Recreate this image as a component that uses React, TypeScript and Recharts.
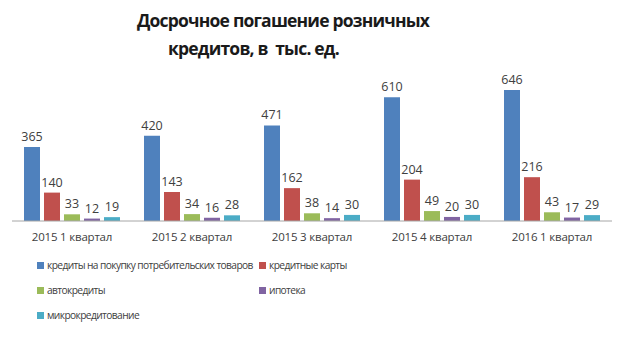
import React from 'react'
import { BarChart, Bar, XAxis, YAxis, Legend, LabelList } from 'recharts'

const quarters = ['2015 1 квартал', '2015 2 квартал', '2015 3 квартал', '2015 4 квартал', '2016 1 квартал']
const consumer = [365, 420, 471, 610, 646]
const cards = [140, 143, 162, 204, 216]
const auto = [33, 34, 38, 49, 43]
const mortgage = [12, 16, 14, 20, 17]
const micro = [19, 28, 30, 30, 29]

const seriesNames = [
  'кредиты на  покупку потребительских товаров',
  'кредитные карты',
  'автокредиты',
  'ипотека',
  'микрокредитование',
]
const colors = ['#4f81bd', '#c0504d', '#9bbb59', '#8064a2', '#4bacc6']
const keys = ['consumer', 'cards', 'auto', 'mortgage', 'micro']

const data = quarters.map((q, i) => ({
  q,
  consumer: consumer[i],
  cards: cards[i],
  auto: auto[i],
  mortgage: mortgage[i],
  micro: micro[i],
}))

const FONT = '"Open Sans", "DejaVu Sans", sans-serif'

// legend grid: 2 columns, last item alone
const legendPos = [
  { x: 37, y: 265 }, { x: 259, y: 265 },
  { x: 37, y: 290 }, { x: 259, y: 290 },
  { x: 37, y: 315 },
]

function LegendBox() {
  return (
    <div style={{ position: 'relative', width: 640, height: 0 }}>
      {seriesNames.map((n, i) => (
        <div key={n} style={{
          position: 'absolute', left: legendPos[i].x, top: legendPos[i].y - 8,
          height: 16, display: 'flex', alignItems: 'center', whiteSpace: 'nowrap',
          fontFamily: FONT, fontSize: 10.2, color: '#404040', letterSpacing: -0.6,
        }}>
          <span style={{ width: 7, height: 7, background: colors[i], marginRight: 3, display: 'inline-block' }} />
          {n}
        </div>
      ))}
    </div>
  )
}

const titleStyle: React.CSSProperties = {
  position: 'absolute', fontFamily: FONT, fontWeight: 700, fontSize: 17.5,
  color: '#1a1a1a', whiteSpace: 'nowrap', letterSpacing: -0.8,
}

export default function App() {
  return (
    <div style={{ position: 'absolute', left: 0, top: 0, width: 640, height: 361, background: '#fff' }}>
      <div style={{ ...titleStyle, left: 137, top: 8 }}>
        Досрочное погашение розничных
      </div>
      <div style={{ ...titleStyle, left: 168, top: 36 }}>
        кредитов, в&nbsp;&nbsp;тыс. ед.
      </div>
      <BarChart width={640} height={361} data={data}
        margin={{ top: 79, right: 28, bottom: 110, left: 12 }}
        barCategoryGap="10%" barGap={4}>
        <XAxis dataKey="q" axisLine={{ stroke: '#a6a6a6' }} tickLine={false}
          tick={{ fontSize: 11.5, fill: '#404040', fontFamily: FONT, letterSpacing: -0.2 }} dy={4} interval={0} />
        <YAxis hide domain={[0, 700]} />
        <Legend content={() => <LegendBox />} wrapperStyle={{ left: 0, top: 0, width: 640 }} />
        {keys.map((k, i) => (
          <Bar key={k} dataKey={k} name={seriesNames[i]} fill={colors[i]} isAnimationActive={false}>
            <LabelList dataKey={k} position="top" offset={6}
              style={{ fontSize: 12.5, fill: '#404040', fontFamily: FONT }} />
          </Bar>
        ))}
      </BarChart>
    </div>
  )
}
